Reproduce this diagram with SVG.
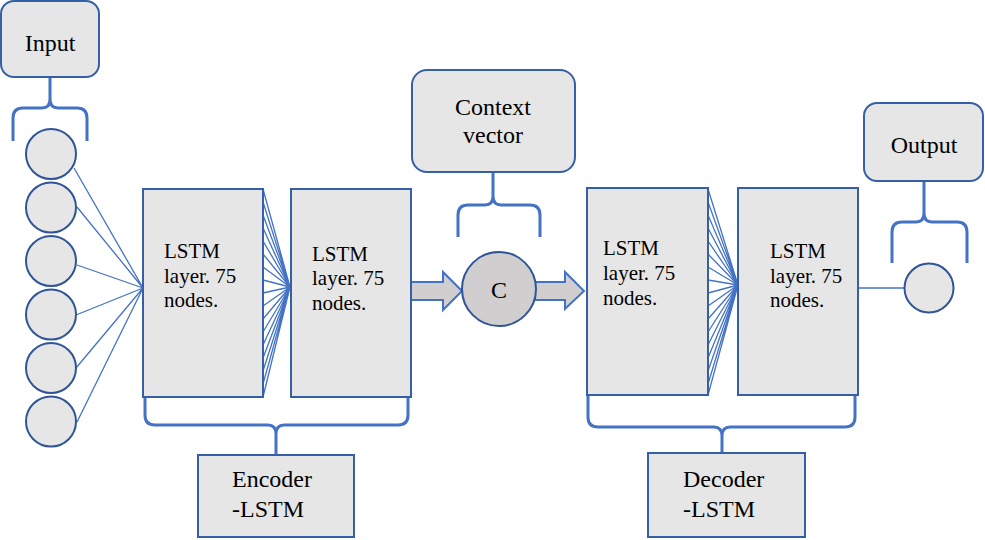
<svg xmlns="http://www.w3.org/2000/svg" width="985" height="540" viewBox="0 0 985 540">
<style>
.box{fill:#e7e6e6;stroke:#3560a8;stroke-width:2}
.circ{fill:#e7e6e6;stroke:#2f5597;stroke-width:2}
.brace{fill:none;stroke:#4472c4;stroke-width:3;stroke-linejoin:round}
.ln{stroke:#4472c4;stroke-width:1.3;fill:none}
.blk{fill:#d0cece;stroke:#4472c4;stroke-width:2}
text{font-family:'Liberation Serif','Times New Roman',Times,'DejaVu Serif',serif;fill:#000}
.big{font-size:24px}
.sm{font-size:21px}
</style>
<rect width="985" height="540" fill="#fff"/>
<g id="connectors">
  <path class="ln" d="M74,168 L143,288 M77,207 L143,288 M77,265 L143,288 M76,315 L143,288 M76,368 L143,288 M77,422 L143,288"/>
  <path class="ln" d="M263,189 L290,287 M263,202 L290,287 M263,215 L290,287 M263,228 L290,287 M263,241 L290,287 M263,254 L290,287 M263,267 L290,287 M263,280 L290,287 M263,293 L290,287 M263,306 L290,287 M263,319 L290,287 M263,332 L290,287 M263,345 L290,287 M263,358 L290,287 M263,371 L290,287 M263,384 L290,287 M263,397 L290,287"/>
  <path class="ln" d="M708,189 L738,285 M708,202 L738,285 M708,215 L738,285 M708,228 L738,285 M708,241 L738,285 M708,254 L738,285 M708,267 L738,285 M708,280 L738,285 M708,293 L738,285 M708,306 L738,285 M708,319 L738,285 M708,332 L738,285 M708,345 L738,285 M708,358 L738,285 M708,371 L738,285 M708,384 L738,285 M708,395 L738,285"/>
  <path class="ln" d="M858,288 L905,288"/>
  <path class="blk" d="M411,282 L443,282 L443,272 L462,291 L443,310 L443,300 L411,300 Z"/>
  <path class="blk" d="M535,282 L565,282 L565,272 L584,291 L565,309 L565,300 L535,300 Z"/>
  <path class="brace" d="M13,141 L13,118 Q13,108 23,108 L42,108 Q50,108 50,99 L50,77 M87,141 L87,118 Q87,108 77,108 L58,108 Q50,108 50,99"/>
  <path class="brace" d="M458,237 L458,215 Q458,205 468,205 L485,205 Q493,205 493,196 L493,172 M540,237 L540,215 Q540,205 530,205 L501,205 Q493,205 493,196"/>
  <path class="brace" d="M892,263 L892,232 Q892,222 902,222 L916,222 Q924,222 924,213 L924,181 M967,263 L967,232 Q967,222 957,222 L932,222 Q924,222 924,213"/>
  <path class="brace" d="M145,397 L145,415 Q145,425 155,425 L268,425 Q276,425 276,434 L276,455 M408,397 L408,415 Q408,425 398,425 L284,425 Q276,425 276,434"/>
  <path class="brace" d="M588,395 L588,417 Q588,427 598,427 L714,427 Q722,427 722,436 L722,453 M855,395 L855,417 Q855,427 845,427 L730,427 Q722,427 722,436"/>
</g>
<g id="input">
  <rect class="box" x="1" y="1" width="98" height="76" rx="13"/>
  <text class="big" x="50" y="51" text-anchor="middle">Input</text>
</g>
<g id="input-nodes">
  <circle class="circ" cx="51" cy="154" r="25"/>
  <circle class="circ" cx="51" cy="207.5" r="25"/>
  <circle class="circ" cx="51" cy="261" r="25"/>
  <circle class="circ" cx="51" cy="314.5" r="25"/>
  <circle class="circ" cx="51" cy="368" r="25"/>
  <circle class="circ" cx="51" cy="421.5" r="25"/>
</g>
<g id="enc1">
  <rect class="box" x="143" y="189" width="120" height="208"/>
  <text class="sm" x="164" y="258">LSTM</text>
  <text class="sm" x="164" y="283">layer. 75</text>
  <text class="sm" x="164" y="307">nodes.</text>
</g>
<g id="enc2">
  <rect class="box" x="291" y="189" width="120" height="208"/>
  <text class="sm" x="312" y="261">LSTM</text>
  <text class="sm" x="312" y="285">layer. 75</text>
  <text class="sm" x="312" y="310">nodes.</text>
</g>
<g id="context">
  <rect class="box" x="412" y="70" width="163" height="102" rx="15"/>
  <text class="big" x="493" y="115" text-anchor="middle">Context</text>
  <text class="big" x="493" y="143" text-anchor="middle">vector</text>
</g>
<g id="c">
  <circle cx="499" cy="289" r="37" fill="#d0cece" stroke="#2f5597" stroke-width="2"/>
  <text class="big" x="499" y="298" text-anchor="middle">C</text>
</g>
<g id="dec1">
  <rect class="box" x="587" y="188" width="121" height="207"/>
  <text class="sm" x="603" y="255">LSTM</text>
  <text class="sm" x="603" y="280">layer. 75</text>
  <text class="sm" x="603" y="305">nodes.</text>
</g>
<g id="dec2">
  <rect class="box" x="738" y="188" width="120" height="207"/>
  <text class="sm" x="770" y="258">LSTM</text>
  <text class="sm" x="770" y="283">layer. 75</text>
  <text class="sm" x="770" y="307">nodes.</text>
</g>
<g id="output">
  <rect class="box" x="864" y="103" width="119" height="78" rx="13"/>
  <text class="big" x="924" y="153" text-anchor="middle">Output</text>
</g>
<g id="output-node">
  <circle class="circ" cx="929" cy="288" r="24.5"/>
</g>
<g id="encoder">
  <rect class="box" x="198" y="455" width="156" height="82"/>
  <text class="big" x="232" y="487">Encoder</text>
  <text class="big" x="232" y="517">-LSTM</text>
</g>
<g id="decoder">
  <rect class="box" x="648" y="453" width="157" height="84"/>
  <text class="big" x="683" y="487">Decoder</text>
  <text class="big" x="683" y="517">-LSTM</text>
</g>
</svg>
